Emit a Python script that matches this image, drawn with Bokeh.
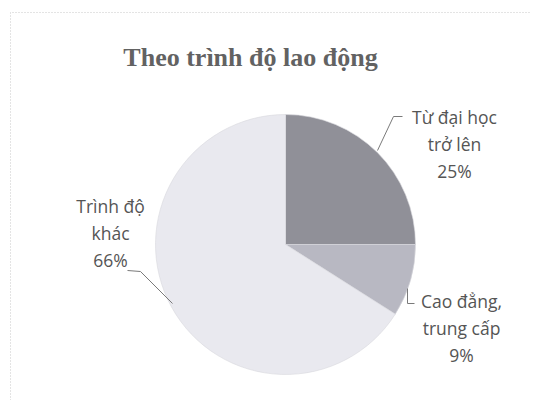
import numpy as np
from bokeh.plotting import figure
from bokeh.models import ColumnDataSource, Range1d
from bokeh.core.properties import value
from bokeh.embed import file_html
from bokeh.resources import INLINE

# ---- data ----
title = "Theo trình độ lao động"
categories = ["Từ đại học trở lên", "Cao đẳng, trung cấp", "Trình độ khác"]
shares = [25, 9, 66]
label_lines = [["Từ đại học", "trở lên", "25%"],
               ["Cao đẳng,", "trung cấp", "9%"],
               ["Trình độ", "khác", "66%"]]
colors = ["#909098", "#b8b8c2", "#e9e9ef"]

# ---- layout (data units == pixels) ----
W, H = 530, 400
cx, cy, R = 285, 156, 130
label_anchor = [(454, 284), (461, 100), (110, 195)]   # centre of first line
line_step = 27
leaders = [
    [(377, 250), (393, 284), (402, 284)],
    [(407, 112), (407, 97), (414, 97)],
    [(127, 130), (140, 129), (172, 97)],
]

p = figure(width=W, height=H, output_backend="svg", toolbar_location=None,
           x_range=Range1d(0, W), y_range=Range1d(0, H), min_border=0)
p.axis.visible = False
p.grid.visible = False
p.outline_line_color = None
p.background_fill_color = "white"
p.border_fill_color = "white"

# faint dotted frame (top & left visible in the scan)
p.line([10, 10, W], [0, 388, 388], line_color="#c8c8c8", line_width=1, line_dash="1 2")

vals = np.array(shares, dtype=float)
frac = vals / vals.sum()
cum = np.concatenate([[0], np.cumsum(frac)])
start = np.pi / 2 - cum[1:] * 2 * np.pi
end = np.pi / 2 - cum[:-1] * 2 * np.pi
src = ColumnDataSource(dict(start=start, end=end, color=colors, cat=categories))
p.wedge(x=cx, y=cy, radius=R, start_angle="start", end_angle="end",
        fill_color="color", line_color="#d8d8de", line_width=0.6, source=src)

for pts in leaders:
    xs, ys = zip(*pts)
    p.line(list(xs), list(ys), line_color="#7a7a7a", line_width=1)

tx, ty, tt = [], [], []
for (ax, ay), lines in zip(label_anchor, label_lines):
    for i, s in enumerate(lines):
        tx.append(ax)
        ty.append(ay - i * line_step)
        tt.append(s)
p.text(x=tx, y=ty, text=tt, text_align="center", text_baseline="middle",
       text_font=value("Open Sans"), text_font_size="17.5px", text_color="#555555")

p.text(x=[250], y=[343], text=[title], text_align="center", text_baseline="middle",
       text_font=value("Liberation Serif"), text_font_size="26px",
       text_color="#626262", text_font_style="bold")

open("out.html", "w").write(file_html(p, INLINE))
